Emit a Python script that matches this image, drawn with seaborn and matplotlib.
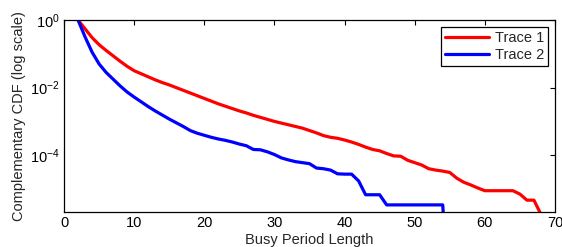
"""Busy period CCDF, two traces"""
import numpy as np
import pandas as pd
import seaborn as sns
import matplotlib
matplotlib.use('Agg')
import matplotlib.pyplot as plt
from matplotlib.ticker import FixedLocator, NullLocator

# busy period length (integer steps)
trace1_x = list(range(2, 69))
# log10 of the complementary CDF
trace1_log = [
    0.0, -0.26, -0.52, -0.73, -0.9, -1.06, -1.22, -1.37, -1.5, -1.59,
    -1.68, -1.77, -1.85, -1.92, -2.0, -2.08, -2.16, -2.24, -2.32, -2.4,
    -2.48, -2.55, -2.62, -2.69, -2.75, -2.82, -2.88, -2.94, -3.0, -3.05,
    -3.1, -3.15, -3.2, -3.27, -3.34, -3.42, -3.47, -3.5, -3.55, -3.61,
    -3.68, -3.76, -3.83, -3.87, -3.95, -4.02, -4.03, -4.15, -4.22, -4.29,
    -4.4, -4.44, -4.47, -4.51, -4.68, -4.8, -4.88, -4.97, -5.05, -5.05,
    -5.05, -5.05, -5.05, -5.15, -5.33, -5.33, -5.75,
]

trace2_x = list(range(2, 56))
trace2_log = [
    0.0, -0.5, -0.95, -1.3, -1.55, -1.75, -1.95, -2.13, -2.28, -2.42,
    -2.56, -2.69, -2.81, -2.93, -3.04, -3.15, -3.27, -3.35, -3.41, -3.47,
    -3.52, -3.56, -3.61, -3.67, -3.72, -3.83, -3.84, -3.9, -3.98, -4.08,
    -4.14, -4.19, -4.22, -4.25, -4.38, -4.4, -4.44, -4.55, -4.56, -4.56,
    -4.76, -5.17, -5.17, -5.17, -5.47, -5.47, -5.47, -5.47, -5.47, -5.47,
    -5.47, -5.47, -5.47, -9.0,
]

x_ticks = [0, 10, 20, 30, 40, 50, 60, 70]
y_ticks = [1e-4, 1e-2, 1e0]

FS = 10.5


def build_frame():
    """长表格"""
    parts = []
    for name, xs, ls in [('Trace 1', trace1_x, trace1_log),
                         ('Trace 2', trace2_x, trace2_log)]:
        parts.append(pd.DataFrame({
            'length': xs,
            'ccdf': np.power(10.0, np.array(ls)),
            'trace': name,
        }))
    return pd.concat(parts, ignore_index=True)


def main():
    sns.set_theme(style='white')
    plt.rcParams['font.family'] = ['Liberation Sans', 'DejaVu Sans']
    plt.rcParams['mathtext.fontset'] = 'custom'
    plt.rcParams['mathtext.rm'] = 'Liberation Sans'
    plt.rcParams['mathtext.it'] = 'Liberation Sans'
    plt.rcParams['mathtext.default'] = 'regular'

    df = build_frame()

    fig = plt.figure(figsize=(5.62, 2.47), dpi=100)
    ax = fig.add_axes([0.1139, 0.1417, 0.8736, 0.7773])

    sns.lineplot(data=df, x='length', y='ccdf', hue='trace',
                 palette={'Trace 1': '#ff0000', 'Trace 2': '#0000ff'},
                 estimator=None, linewidth=2.3, ax=ax)
    ax.set_yscale('log')
    ax.set_xlim(0, 70)
    ax.set_ylim(10 ** -5.68, 1.0)
    ax.xaxis.set_major_locator(FixedLocator(x_ticks))
    ax.yaxis.set_major_locator(FixedLocator(y_ticks))
    ax.yaxis.set_minor_locator(NullLocator())

    ax.tick_params(direction='in', length=3.5, width=0.8, colors='black',
                   labelsize=FS, top=True, right=True, pad=3)
    for s in ax.spines.values():
        s.set_color('black')
        s.set_linewidth(0.9)

    ax.set_xlabel('Busy Period Length', fontsize=FS, labelpad=2)
    ax.set_ylabel('Complementary CDF (log scale)', fontsize=FS, labelpad=3)

    leg = ax.legend(loc='upper right', fontsize=FS, frameon=True,
                    fancybox=False, framealpha=1, edgecolor='black',
                    handlelength=3.0, borderaxespad=0.45, borderpad=0.3,
                    labelspacing=0.2, handletextpad=0.4)
    leg.get_frame().set_linewidth(0.9)

    fig.savefig('out.png', dpi=100)


if __name__ == "__main__":
    main()
